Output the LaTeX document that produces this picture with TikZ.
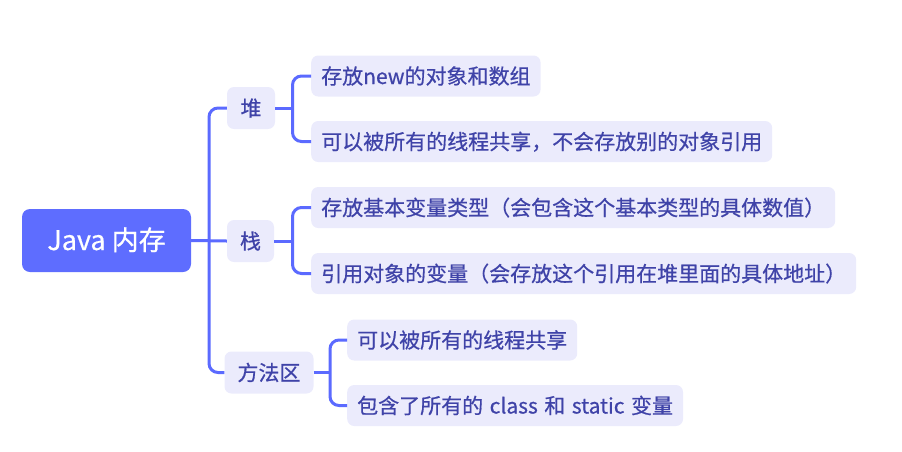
\documentclass[tikz,border=0pt]{standalone}
\usepackage{fontspec}
\newfontfamily\cjk[FakeBold=0.6]{Noto Sans CJK SC}
\definecolor{mainblue}{HTML}{5E6DFF}
\definecolor{linecol}{HTML}{5B6AFF}
\definecolor{boxfill}{HTML}{EBEBFC}
\definecolor{txtcol}{HTML}{3F43A8}
\tikzset{
  rootbox/.style={fill=mainblue, text=white, rounded corners=8pt, minimum width=169pt, minimum height=63pt, font=\cjk\fontsize{27}{30}\selectfont, text height=19pt, text depth=0pt, inner sep=0pt},
  lvbox/.style={fill=boxfill, text=txtcol, rounded corners=7pt, minimum height=42pt, inner xsep=13pt, inner ysep=0pt, font=\cjk\fontsize{21}{24}\selectfont, text height=16pt, text depth=0pt},
  leafbox/.style={fill=boxfill, text=txtcol, rounded corners=7pt, minimum height=41pt, inner xsep=10pt, inner ysep=0pt, font=\cjk\fontsize{21}{24}\selectfont, text height=16pt, text depth=0pt, anchor=west},
  conn/.style={draw=linecol, line width=3pt, rounded corners=9pt}
}
\begin{document}
\begin{tikzpicture}[x=1pt,y=-1pt]
\useasboundingbox (0,0) rectangle (902,451);
\node[rootbox] (root) at (106.5,240.5) {Java 内存};
\node[lvbox, minimum width=48pt] (heap) at (251,108) {堆};
\node[lvbox, minimum width=47pt] (stack) at (250.5,241) {栈};
\node[lvbox, minimum width=84pt] (meth) at (269,372.5) {方法区};

\node[leafbox] (h1) at (311,76) {存放new的对象和数组};
\node[leafbox] (h2) at (311,141.5) {可以被所有的线程共享，不会存放别的对象引用};
\node[leafbox] (s1) at (311,207.5) {存放基本变量类型（会包含这个基本类型的具体数值）};
\node[leafbox] (s2) at (311,273.5) {引用对象的变量（会存放这个引用在堆里面的具体地址）};
\node[leafbox] (m1) at (347,340) {可以被所有的线程共享};
\node[leafbox] (m2) at (347,405.5) {包含了所有的\hspace{6.5pt}class\hspace{6.5pt}和\hspace{6.5pt}static\hspace{6.5pt}变量};

\coordinate (J0) at (209,241);
\coordinate (Jh) at (292.5,108);
\coordinate (Js) at (292.5,241);
\coordinate (Jm) at (330,372.5);

\draw[conn] (root.east) -- (stack.west);
\draw[conn] (heap.west) -| (J0) |- (meth.west);
\draw[conn] (heap.east) -- (Jh);
\draw[conn] (h1.west) -| (Jh) |- (h2.west);
\draw[conn] (stack.east) -- (Js);
\draw[conn] (s1.west) -| (Js) |- (s2.west);
\draw[conn] (meth.east) -- (Jm);
\draw[conn] (m1.west) -| (Jm) |- (m2.west);
\end{tikzpicture}
\end{document}
